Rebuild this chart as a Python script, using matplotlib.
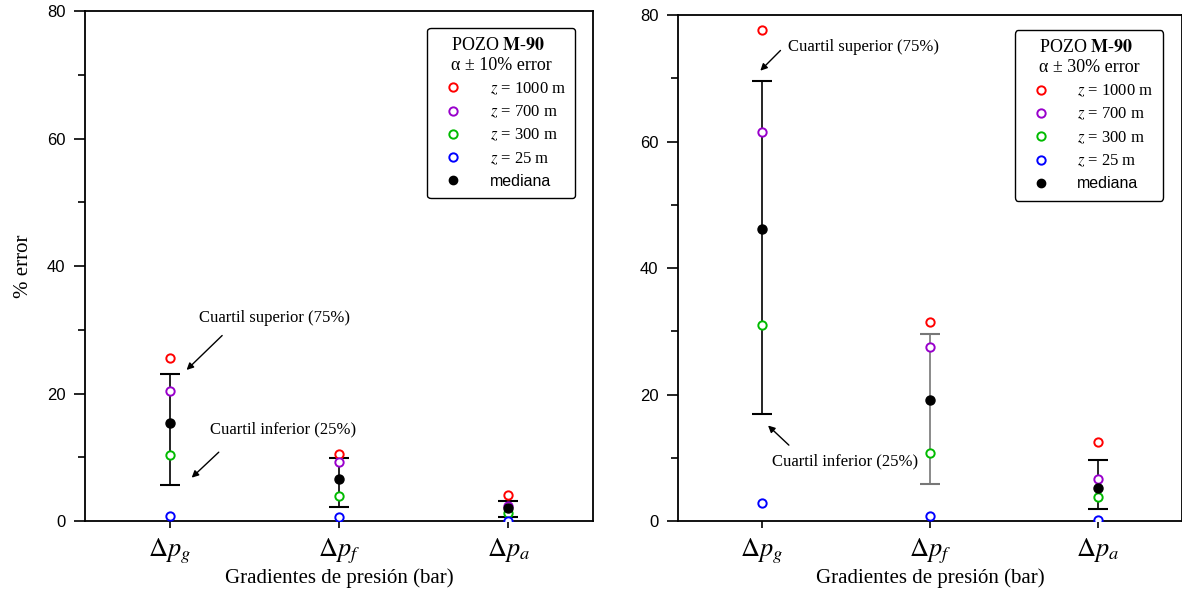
import matplotlib.pyplot as plt
from matplotlib.lines import Line2D

plt.rcParams['font.family'] = ['Liberation Serif', 'DejaVu Serif']
plt.rcParams['mathtext.fontset'] = 'stix'

# Datos (% error)
categorias = [r"$\Delta p_g$", r"$\Delta p_f$", r"$\Delta p_a$"]
profundidades = ["1000", "700", "300", "25"]
colores = ["#ff0000", "#9900cc", "#00bb00", "#0000ff"]

# alpha +- 10%
err10_z1000 = [25.6, 10.5, 4.1]
err10_z700 = [20.4, 9.2, 2.3]
err10_z300 = [10.4, 3.9, 1.2]
err10_z25 = [0.8, 0.6, 0.05]
err10_mediana = [15.4, 6.6, 2.1]
err10_q75 = [23.0, 9.9, 3.2]
err10_q25 = [5.7, 2.2, 0.6]

# alpha +- 30%
err30_z1000 = [77.6, 31.5, 12.5]
err30_z700 = [61.5, 27.5, 6.7]
err30_z300 = [31.0, 10.8, 3.8]
err30_z25 = [2.9, 0.8, 0.2]
err30_mediana = [46.2, 19.2, 5.3]
err30_q75 = [69.6, 29.6, 9.6]
err30_q25 = [17.0, 5.9, 1.9]

flecha = dict(arrowstyle="-|>", color="black", lw=1.0, shrinkA=0, shrinkB=0)


def panel(ax, series, mediana, q75, q25, color_barras):
    x = [1, 2, 3]
    for i in range(3):
        ax.errorbar(x[i], mediana[i], yerr=[[mediana[i] - q25[i]], [q75[i] - mediana[i]]],
                    fmt="none", ecolor=color_barras[i], elinewidth=1.2, capsize=7.5,
                    capthick=1.5, zorder=2)
    for vals, c in zip(series, colores):
        ax.plot(x, vals, "o", mfc="white", mec=c, mew=1.4, ms=6, ls="none", zorder=3)
    ax.plot(x, mediana, "o", color="black", ms=6.5, ls="none", zorder=4)

    ax.set_xlim(0.5, 3.5)
    ax.set_ylim(0, 80)
    ax.set_xticks(x)
    ax.set_xticklabels(categorias, fontsize=19)
    ax.set_yticks([0, 20, 40, 60, 80])
    ax.set_yticks([10, 30, 50, 70], minor=True)
    ax.tick_params(axis="y", which="major", direction="out", length=8, width=1.2,
                   labelsize=12, pad=6)
    ax.tick_params(axis="y", which="minor", direction="out", length=5, width=1.2)
    ax.tick_params(axis="x", direction="out", length=5, width=1.2, pad=6)
    for lab in ax.get_yticklabels():
        lab.set_fontfamily("Liberation Sans")
    for s in ax.spines.values():
        s.set_linewidth(1.3)
    ax.set_xlabel("Gradientes de presión (bar)", fontsize=15, labelpad=2)


def leyenda(ax, alpha_txt, ancla):
    handles = [Line2D([], [], marker="o", ls="none", mfc="white", mec=c, mew=1.4, ms=6)
               for c in colores]
    handles.append(Line2D([], [], marker="o", ls="none", color="black", ms=6))
    labels = [r"$z$ = %s m" % p for p in profundidades] + ["mediana"]
    leg = ax.legend(handles, labels,
                    title="POZO $\\mathbf{M}$-$\\mathbf{90}$\nα ± " + alpha_txt + " error",
                    loc="upper right", bbox_to_anchor=ancla, borderaxespad=0,
                    fontsize=12, title_fontsize=13, fancybox=True, framealpha=1,
                    edgecolor="black", handlelength=2.0, handletextpad=1.2,
                    labelspacing=0.42, borderpad=0.55)
    leg.get_frame().set_linewidth(1.0)
    leg.get_texts()[4].set_fontfamily("Liberation Sans")
    leg.get_texts()[4].set_fontsize(11.5)
    return leg


fig = plt.figure(figsize=(11.82, 5.9), dpi=100)
ax1 = fig.add_axes([0.0719, 0.1169, 0.4298, 0.8644])
ax2 = fig.add_axes([0.5736, 0.1169, 0.4264, 0.8576])

panel(ax1, [err10_z1000, err10_z700, err10_z300, err10_z25],
      err10_mediana, err10_q75, err10_q25, ["black", "black", "black"])
ax1.set_ylabel("% error", fontsize=15, labelpad=10)
leyenda(ax1, "10%", (0.965, 0.967))
ax1.annotate("", xy=(1.10, 23.7), xytext=(1.31, 29.1), arrowprops=flecha)
ax1.text(1.62, 31.9, "Cuartil superior (75%)", fontsize=12, ha="center", va="center")
ax1.annotate("", xy=(1.13, 6.8), xytext=(1.29, 10.8), arrowprops=flecha)
ax1.text(1.67, 14.3, "Cuartil inferior (25%)", fontsize=12, ha="center", va="center")

panel(ax2, [err30_z1000, err30_z700, err30_z300, err30_z25],
      err30_mediana, err30_q75, err30_q25, ["black", "#777777", "black"])
leyenda(ax2, "30%", (0.962, 0.970))
ax2.annotate("", xy=(0.99, 71.2), xytext=(1.11, 74.4), arrowprops=flecha)
ax2.text(1.155, 75.0, "Cuartil superior (75%)", fontsize=12, va="center")
ax2.annotate("", xy=(1.036, 15.1), xytext=(1.16, 12.0), arrowprops=flecha)
ax2.text(1.06, 9.5, "Cuartil inferior (25%)", fontsize=12, va="center")

fig.savefig("out.png", dpi=100)
